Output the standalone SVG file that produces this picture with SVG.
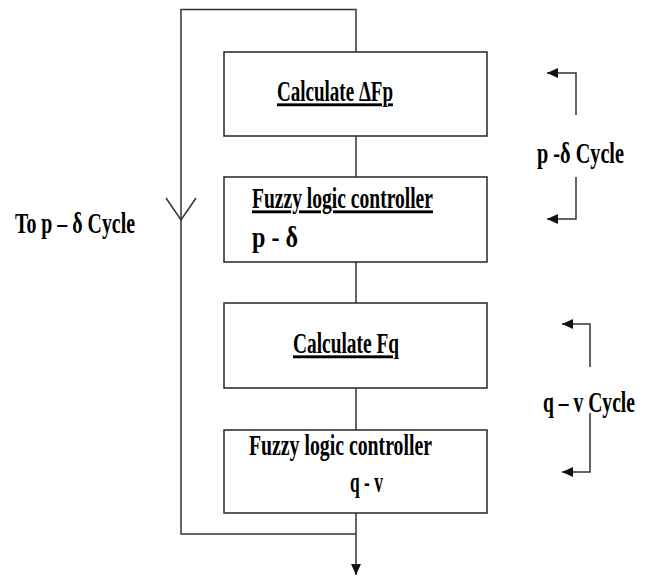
<svg xmlns="http://www.w3.org/2000/svg" width="651" height="577" viewBox="0 0 651 577">
  <style>
    .box { fill: #ffffff; stroke: #333333; stroke-width: 1.6; }
    .ln { fill: none; stroke: #333333; stroke-width: 1.5; }
    .t { font-family: "Liberation Serif", "Times New Roman", serif; font-weight: bold; font-size: 29px; fill: #000000; }
    .u { text-decoration: underline; }
  </style>
  <defs>
    <marker id="ah" viewBox="0 0 10 10" refX="10" refY="5" markerWidth="12" markerHeight="11" markerUnits="userSpaceOnUse" orient="auto">
      <path d="M0,0.5 L10,5 L0,9.5 Z" fill="#111111"/>
    </marker>
  </defs>
  <rect width="651" height="577" fill="#ffffff"/>

  <g id="connectors">
    <polyline class="ln" points="356,52 356,9.5 181,9.5 181,534 356,534"/>
    <polyline class="ln" points="166,198 181,220 196,198"/>
    <line class="ln" x1="356" y1="136" x2="356" y2="177"/>
    <line class="ln" x1="356" y1="262" x2="356" y2="303"/>
    <line class="ln" x1="356" y1="388" x2="356" y2="430"/>
    <line class="ln" x1="356" y1="513" x2="356" y2="575" marker-end="url(#ah)"/>
    <polyline class="ln" points="576,115 576,73 547,73" marker-end="url(#ah)"/>
    <polyline class="ln" points="576,177 576,219 547,219" marker-end="url(#ah)"/>
    <polyline class="ln" points="590,367 590,324 562,324" marker-end="url(#ah)"/>
    <polyline class="ln" points="590,413 590,472 562,472" marker-end="url(#ah)"/>
  </g>

  <g id="node-calc-dfp">
    <rect class="box" x="224" y="52" width="263" height="84"/>
    <text class="t u" transform="translate(277,101) scale(0.66,1)" textLength="175.8" lengthAdjust="spacingAndGlyphs">Calculate ΔFp</text>
  </g>

  <g id="node-flc-pd">
    <rect class="box" x="224" y="177" width="263" height="85"/>
    <text class="t u" transform="translate(252,208) scale(0.66,1)" textLength="274.2" lengthAdjust="spacingAndGlyphs">Fuzzy logic controller</text>
    <text class="t" transform="translate(252,247) scale(0.66,1)" textLength="69.7" lengthAdjust="spacingAndGlyphs">p -  δ</text>
  </g>

  <g id="node-calc-fq">
    <rect class="box" x="224" y="303" width="263" height="85"/>
    <text class="t u" transform="translate(293,353) scale(0.66,1)" textLength="160.6" lengthAdjust="spacingAndGlyphs">Calculate Fq</text>
  </g>

  <g id="node-flc-qv">
    <rect class="box" x="224" y="430" width="263" height="83"/>
    <text class="t" transform="translate(249,455) scale(0.66,1)" textLength="277.3" lengthAdjust="spacingAndGlyphs">Fuzzy logic controller</text>
    <text class="t" transform="translate(350,492) scale(0.66,1)" textLength="50" lengthAdjust="spacingAndGlyphs">q - v</text>
  </g>

  <g id="label-to-pd">
    <text class="t" transform="translate(15,233) scale(0.66,1)" textLength="181.8" lengthAdjust="spacingAndGlyphs">To p – δ Cycle</text>
  </g>
  <g id="label-pd-cycle">
    <text class="t" transform="translate(537,163) scale(0.66,1)" textLength="131.8" lengthAdjust="spacingAndGlyphs">p -δ Cycle</text>
  </g>
  <g id="label-qv-cycle">
    <text class="t" transform="translate(543,412) scale(0.66,1)" textLength="139.4" lengthAdjust="spacingAndGlyphs">q – v Cycle</text>
  </g>
</svg>
